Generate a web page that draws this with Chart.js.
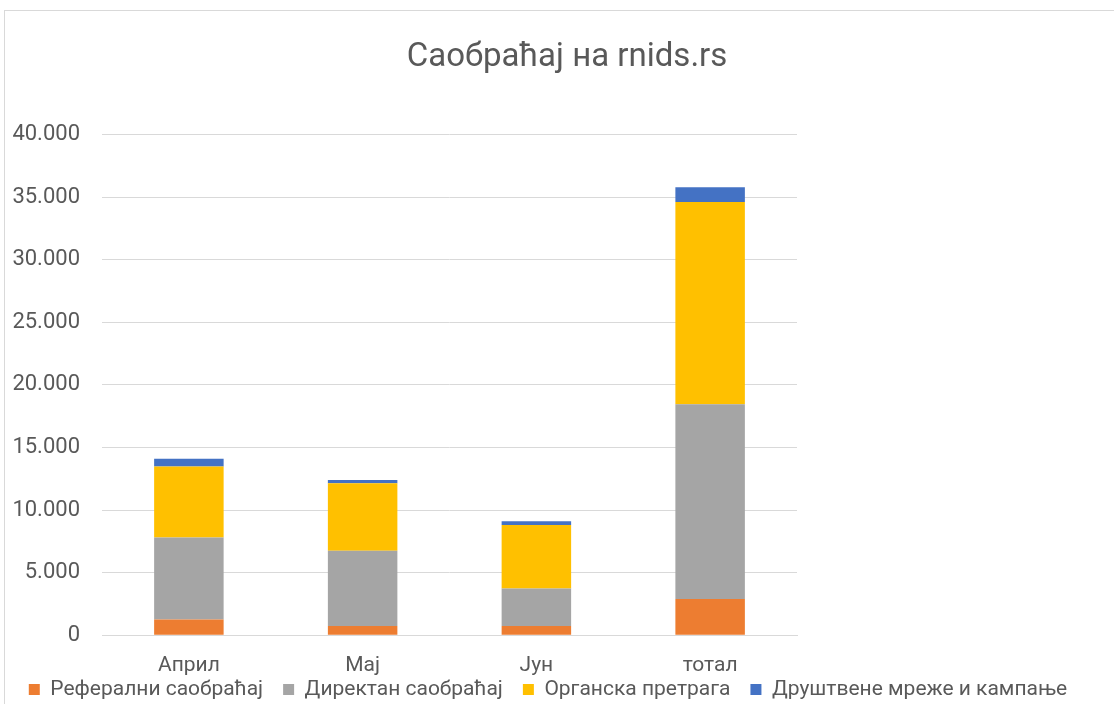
<!DOCTYPE html>
<html>
<head>
<meta charset="utf-8">
<script src="https://cdn.jsdelivr.net/npm/chart.js@4.4.1/dist/chart.umd.min.js"></script>
<style>
  html, body { margin: 0; padding: 0; background: #ffffff; }
  #wrap { width: 1114px; height: 704px; position: relative; }
</style>
</head>
<body>
<div id="wrap"><canvas id="c" width="1114" height="704"></canvas></div>
<script>
const categories = ['Април', 'Мај', 'Јун', 'тотал'];
const seriesNames = ['Реферални саобраћај', 'Директан саобраћај', 'Органска претрага', 'Друштвене мреже и кампање'];
const referalni = [1250, 740, 740, 2900];
const direktan = [6550, 6010, 3000, 15550];
const organska = [5680, 5390, 5070, 16170];
const drustvene = [610, 270, 290, 1170];
const yTickLabels = ['0', '5.000', '10.000', '15.000', '20.000', '25.000', '30.000', '35.000', '40.000'];
const colors = ['#ED7D31', '#A5A5A5', '#FFC000', '#4472C4'];
const titleText = 'Саобраћај на rnids.rs';

const FONT = 'Roboto';
const TXT = '#595959';

const frame = {
  id: 'frame',
  beforeDraw(chart) {
    const ctx = chart.ctx;
    ctx.save();
    ctx.fillStyle = '#ffffff';
    ctx.fillRect(0, 0, chart.width, chart.height);
    ctx.strokeStyle = '#d9d9d9';
    ctx.lineWidth = 1;
    ctx.strokeRect(4.5, 10.5, 1300, 900);
    ctx.restore();
  },
  afterLayout(chart) {
    chart.scales.x.bottom = chart.height;
    const lg = chart.legend;
    const shift = 659 - lg.top;
    lg.top += shift;
    lg.bottom += shift;
    lg.left -= 9;
    lg.right -= 9;
  },
  afterDraw(chart) {
    const ctx = chart.ctx;
    const t = chart.titleBlock;
    ctx.save();
    ctx.fillStyle = TXT;
    ctx.font = '33px ' + FONT;
    ctx.textAlign = 'center';
    ctx.textBaseline = 'middle';
    ctx.fillText(titleText, 567, (t.top + t.bottom) / 2 + (38 - 57) / 2);
    ctx.restore();
  }
};

const values = [referalni, direktan, organska, drustvene];
new Chart(document.getElementById('c'), {
  type: 'bar',
  data: {
    labels: categories,
    datasets: seriesNames.map((n, i) => ({
      label: n,
      data: values[i],
      backgroundColor: colors[i],
      borderWidth: 0,
      barPercentage: 0.4,
      categoryPercentage: 1.0
    }))
  },
  plugins: [frame],
  options: {
    responsive: false,
    animation: false,
    devicePixelRatio: 1,
    layout: { padding: 0 },
    plugins: {
      title: {
        display: true,
        text: titleText,
        color: 'rgba(0,0,0,0)',
        font: { family: FONT, size: 33, weight: 'normal' },
        padding: { top: 38, bottom: 57 }
      },
      legend: {
        position: 'bottom',
        labels: {
          boxWidth: 11,
          boxHeight: 11,
          color: TXT,
          font: { family: FONT, size: 21 },
          padding: 20
        }
      },
      tooltip: { enabled: false }
    },
    scales: {
      x: {
        stacked: true,
        grid: { display: false, drawTicks: false },
        border: { display: true, color: '#d9d9d9', width: 1 },
        ticks: { color: TXT, font: { family: FONT, size: 21 }, padding: 18 },
        afterFit(s) { s.height = 17.8; }
      },
      y: {
        stacked: true,
        min: 0,
        max: 40000,
        position: 'left',
        grid: { color: '#d9d9d9', lineWidth: 1, drawTicks: false },
        border: { display: false },
        ticks: {
          stepSize: 5000,
          color: TXT,
          font: { family: FONT, size: 22 },
          padding: 22,
          callback: (v, i) => yTickLabels[i]
        },
        afterFit(s) { s.width = 102; }
      },
      yr: {
        position: 'right',
        display: true,
        grid: { display: false, drawTicks: false },
        border: { display: false },
        ticks: { display: false },
        afterFit(s) { s.width = 317; }
      }
    }
  }
});
</script>
</body>
</html>
